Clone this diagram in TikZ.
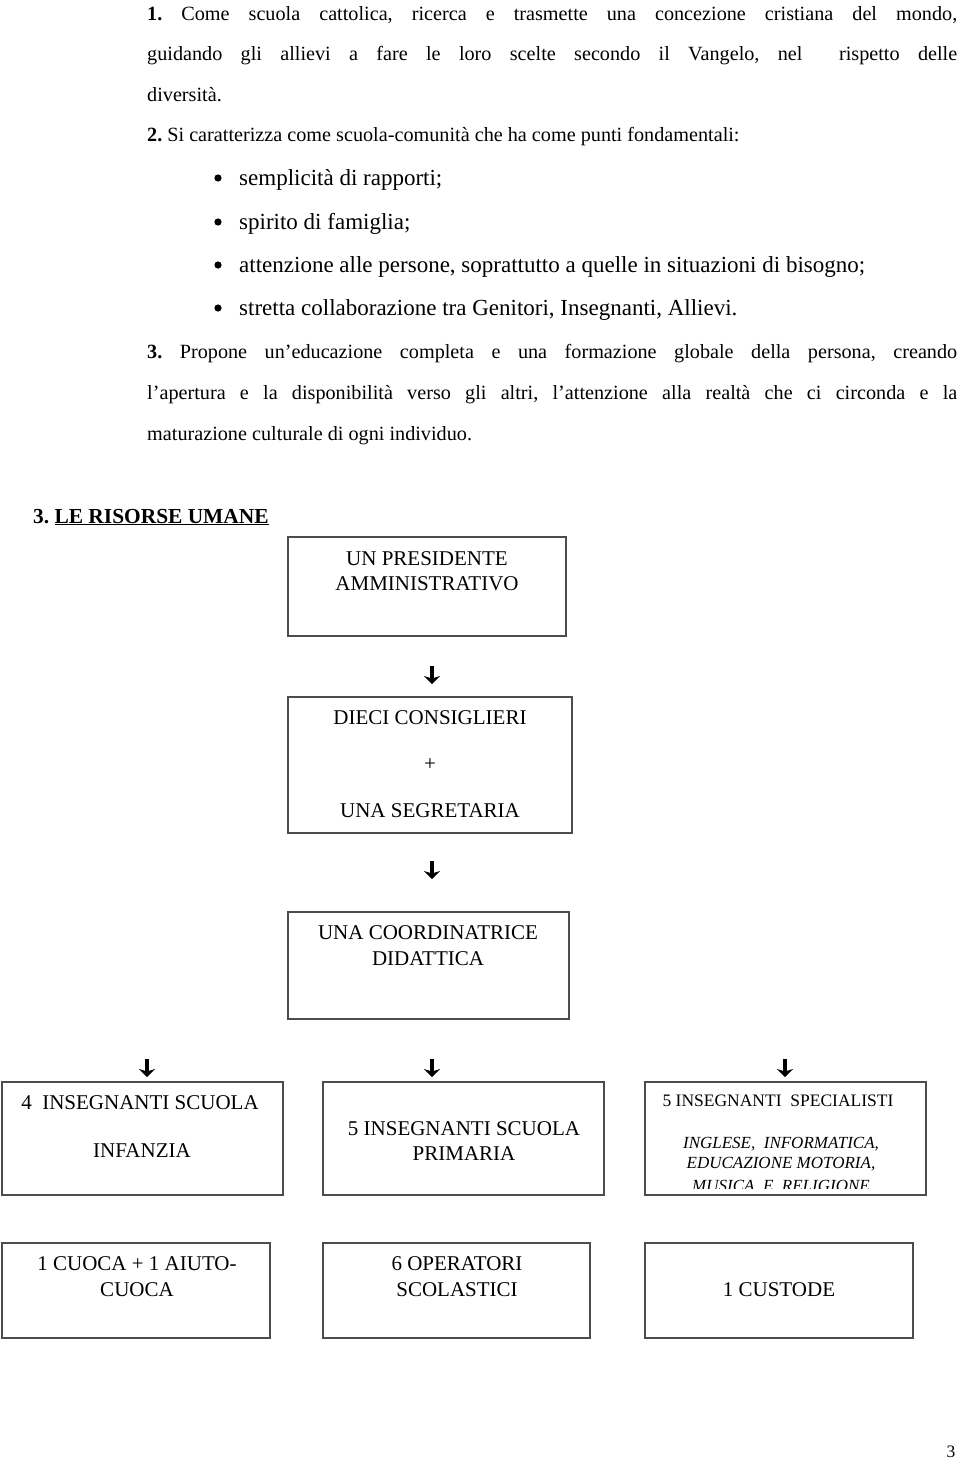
\documentclass[tikz,border=0pt]{standalone}
\usepackage{fontspec}
\setmainfont{Liberation Serif}
\usetikzlibrary{arrows.meta}
\begin{document}
\frenchspacing
\begin{tikzpicture}[x=1pt,y=-1pt,
  body/.style={anchor=base west,inner sep=0pt,font=\fontsize{20.2}{24}\selectfont},
  headtxt/.style={anchor=base west,inner sep=0pt,font=\fontsize{21.4}{25}\selectfont\bfseries},
  bullettxt/.style={anchor=base west,inner sep=0pt,font=\fontsize{23}{27}\selectfont},
  boxtxt/.style={anchor=base,inner sep=0pt,font=\fontsize{21}{25}\selectfont},
  smalltxt/.style={anchor=base,inner sep=0pt,font=\fontsize{17.5}{20}\selectfont},
  ittxt/.style={anchor=base,inner sep=0pt,font=\fontsize{17}{20}\selectfont\itshape},
  orgbox/.style={draw=black!70,line width=1.4pt},
  downarrow/.style={line width=3.4pt,-{Stealth[length=8pt,width=16pt,inset=2.5pt]}}]
\useasboundingbox (0,0) rectangle (960,1467);
\fill[white] (0,0) rectangle (960,1467);

% --- paragraph 1
\node[body] (p1a) at (147,20) {\makebox[810pt][s]{\textbf{1.} Come scuola cattolica, ricerca e trasmette una concezione cristiana del mondo,}};
\node[body] (p1b) at (147,60) {\makebox[810pt][s]{guidando gli allievi a fare le loro scelte secondo il Vangelo, nel \ rispetto delle}};
\node[body] (p1c) at (147,101) {diversità.};
% --- paragraph 2
\node[body] (p2a) at (147,141) {\textbf{2.} Si caratterizza come scuola-comunità che ha come punti fondamentali:};
\foreach \y/\t/\n in {185/{semplicità di rapporti;}/b1,
                      229/{spirito di famiglia;}/b2,
                      272/{attenzione alle persone, soprattutto a quelle in situazioni di bisogno;}/b3,
                      315/{stretta collaborazione tra Genitori, Insegnanti, Allievi.}/b4}{
  \fill (218,\y-7) circle (3.6);
  \node[bullettxt] (\n) at (239,\y) {\t};
}
% --- paragraph 3
\node[body] (p3a) at (147,358) {\makebox[810pt][s]{\textbf{3.} Propone un’educazione completa e una formazione globale della persona, creando}};
\node[body] (p3b) at (147,399) {\makebox[810pt][s]{l’apertura e la disponibilità verso gli altri, l’attenzione alla realtà che ci circonda e la}};
\node[body] (p3c) at (147,440) {maturazione culturale di ogni individuo.};

% --- heading
\node[headtxt] (head) at (33,523) {3. \underline{LE RISORSE UMANE}};

% --- boxes
\draw[orgbox] (288,537) rectangle (566,636);
\node[boxtxt] (t1a) at (427,565) {UN PRESIDENTE};
\node[boxtxt] (t1b) at (427,590) {AMMINISTRATIVO};

\draw[orgbox] (288,697) rectangle (572,833);
\node[boxtxt] (t2a) at (430,724) {DIECI CONSIGLIERI};
\node[boxtxt] (t2b) at (430,770) {+};
\node[boxtxt] (t2c) at (430,817) {UNA SEGRETARIA};

\draw[orgbox] (288,912) rectangle (569,1019);
\node[boxtxt] (t3a) at (428,939) {UNA COORDINATRICE};
\node[boxtxt] (t3b) at (428,965) {DIDATTICA};

\draw[orgbox] (2,1082) rectangle (283,1195);
\node[boxtxt] (t4a) at (140,1109) {4 \ INSEGNANTI SCUOLA};
\node[boxtxt] (t4b) at (142,1157) {INFANZIA};

\draw[orgbox] (323,1082) rectangle (604,1195);
\node[boxtxt] (t5a) at (464,1135) {5 INSEGNANTI SCUOLA};
\node[boxtxt] (t5b) at (464,1160) {PRIMARIA};

\draw[orgbox] (645,1082) rectangle (926,1195);
\node[smalltxt] (t6a) at (778,1106) {5 INSEGNANTI \ SPECIALISTI};
\begin{scope}
  \clip (646,1083) rectangle (925,1188);
  \node[ittxt] (t6b) at (781,1148) {INGLESE, \ INFORMATICA,};
  \node[ittxt] (t6c) at (781,1168) {EDUCAZIONE MOTORIA,};
  \node[ittxt] (t6d) at (781,1191) {MUSICA \ E \ RELIGIONE};
\end{scope}

\draw[orgbox] (2,1243) rectangle (270,1338);
\node[boxtxt] (t7a) at (137,1270) {1 CUOCA + 1 AIUTO-};
\node[boxtxt] (t7b) at (137,1296) {CUOCA};

\draw[orgbox] (323,1243) rectangle (590,1338);
\node[boxtxt] (t8a) at (457,1270) {6 OPERATORI};
\node[boxtxt] (t8b) at (457,1296) {SCOLASTICI};

\draw[orgbox] (645,1243) rectangle (913,1338);
\node[boxtxt] (t9a) at (779,1296) {1 CUSTODE};

% --- arrows
\coordinate (a1s) at (432,666); \coordinate (a1e) at (432,684);
\coordinate (a2s) at (432,861); \coordinate (a2e) at (432,879);
\coordinate (a3s) at (147,1059); \coordinate (a3e) at (147,1077);
\coordinate (a4s) at (432,1059); \coordinate (a4e) at (432,1077);
\coordinate (a5s) at (785,1059); \coordinate (a5e) at (785,1077);
\foreach \a in {1,...,5}{\draw[downarrow] (a\a s) -- (a\a e);}

% --- page number
\node[smalltxt] (pg) at (951,1457) {3};
\end{tikzpicture}
\end{document}
